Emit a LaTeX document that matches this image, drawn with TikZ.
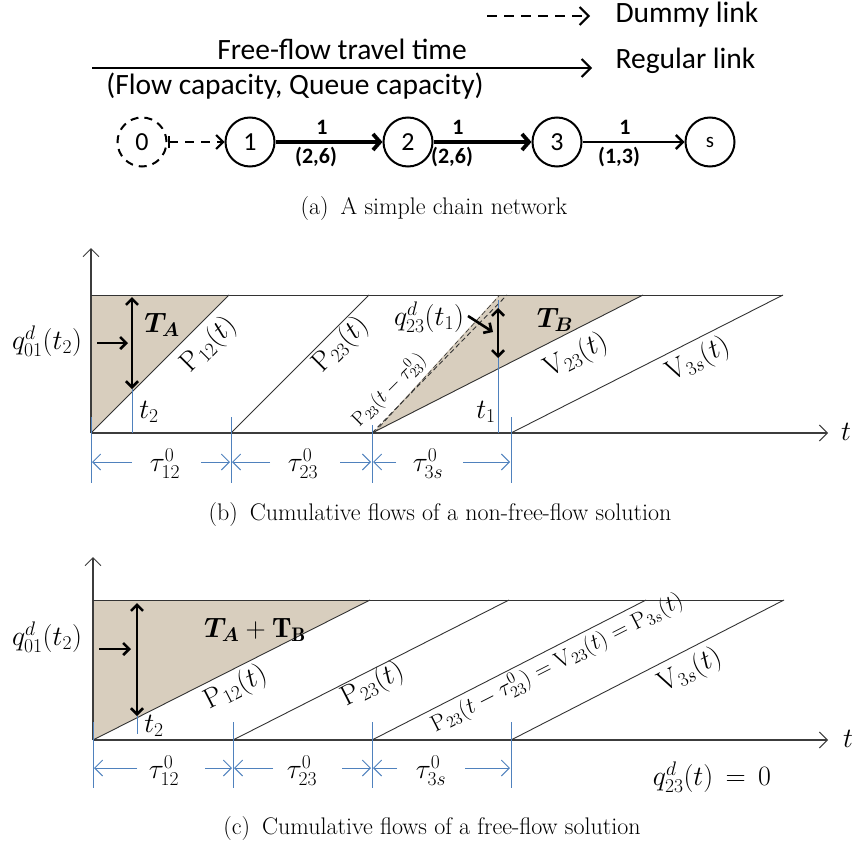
\RequirePackage{fix-cm}
\documentclass[tikz,border=0pt]{standalone}
\usepackage{amsmath,bm}
\usepackage{fontspec}
\newfontfamily\calfont{Carlito}
\usetikzlibrary{arrows.meta}
\definecolor{beige}{RGB}{216,206,190}
\definecolor{dimblue}{RGB}{79,129,189}
\definecolor{axisgray}{RGB}{60,60,60}
\begin{document}
\begin{tikzpicture}[x=1pt,y=-1pt,
  cfont/.style={font=\calfont\fontsize{29.5}{34}\selectfont},
  cbold/.style={font=\calfont\bfseries\fontsize{22}{26}\selectfont},
  netnode/.style={circle,draw,line width=2pt,minimum size=49pt,inner sep=0pt,font=\calfont\fontsize{26}{30}\selectfont},
  barb/.style={-{Straight Barb[length=9pt,width=18pt]}},
  caption/.style={font=\fontsize{24}{28}\selectfont},
  mlbl/.style={font=\fontsize{28}{32}\selectfont,inner sep=0pt},
  slbl/.style={font=\fontsize{20}{24}\selectfont,inner sep=0pt},
  shadearea/.style={fill=beige,draw=none},
  curve/.style={draw=black!80,line width=0.9pt},
  axisline/.style={draw=axisgray,line width=1.4pt},
  axisarrow/.style={axisline,-{Straight Barb[length=8pt,width=16pt,line width=1pt]}},
  dimline/.style={draw=dimblue,line width=0.9pt},
  dimarrow/.style={dimline,-{Straight Barb[length=8pt,width=16pt]}},
  bigarrow/.style={line width=2.6pt,{Straight Barb[length=6pt,width=12pt]}-{Straight Barb[length=6pt,width=12pt]}},
  pointarrow/.style={line width=2.6pt,-{Straight Barb[length=6pt,width=12pt]}}
]
\useasboundingbox (0,0) rectangle (858,848);

% ---------------- (a) ----------------
\coordinate (dA) at (487,16);
\coordinate (dB) at (590,16);
\draw[line width=2pt,dash pattern=on 10pt off 7pt,barb] (dA) -- (dB);
\node[cfont,anchor=west] (dummy) at (612,15) {Dummy link};
\coordinate (rA) at (92,68);
\coordinate (rB) at (592,68);
\draw[line width=2pt,barb] (rA) -- (rB);
\node[cfont,anchor=west] (regular) at (612,61) {Regular link};
\node[cfont] (fft) at (342,49) {Free-flow travel time};
\node[cfont] (cap) at (295,86) {(Flow capacity, Queue capacity)};

\node[netnode,dashed,dash pattern=on 8pt off 6pt] (n0) at (142,142) {0};
\node[netnode] (n1) at (250,142) {1};
\node[netnode] (n2) at (408,142) {2};
\node[netnode] (n3) at (557,142) {3};
\node[netnode,font=\calfont\fontsize{21}{24}\selectfont] (ns) at (710,142) {s};

\draw[line width=2pt,dash pattern=on 9pt off 7pt,{Bar[width=12pt]}-{Straight Barb[length=7pt,width=14pt]}] (n0) -- (n1);
\draw[line width=3.8pt,-{Straight Barb[length=7pt,width=16pt]}] (n1) -- (n2);
\draw[line width=3.8pt,-{Straight Barb[length=7pt,width=16pt]}] (n2) -- (n3);
\draw[line width=2.4pt,-{Straight Barb[length=7pt,width=14pt]}] (n3) -- (ns);
\node[cbold] (l1a) at (322,127) {1};
\node[cbold] (l1b) at (316,157) {(2,6)};
\node[cbold] (l2a) at (458,127) {1};
\node[cbold] (l2b) at (452,157) {(2,6)};
\node[cbold] (l3a) at (625,127) {1};
\node[cbold] (l3b) at (619,157) {(1,3)};

\node[caption] (capa) at (434,209) {(a)\enspace A simple chain network};

% ---------------- (b) ----------------
\fill[shadearea] (91,295) -- (229,295) -- (91,433) -- cycle;
\fill[shadearea] (373,433) -- (499,295) -- (643,295) -- cycle;
\draw[axisarrow] (91,433) -- (91,248);
\draw[axisarrow] (91,433) -- (828,433);
\draw[curve] (91,295) -- (783,295);
\draw[curve] (91,433) -- (229,295);
\draw[curve] (231,433) -- (369,295);
\draw[curve,dashed,dash pattern=on 5pt off 3pt] (372,433) -- (507,295);
\draw[curve,dashed,dash pattern=on 5pt off 3pt,line width=0.6pt] (374,433) -- (499,296);
\draw[curve] (372,433) -- (643,295);
\draw[curve] (511,433) -- (783,295);

\draw[dimline] (132,389) -- (132,433);
\draw[dimline] (498,300) -- (498,433);
\draw[bigarrow] (132,297) -- (132,389);
\draw[pointarrow] (97,343) -- (128,343);
\draw[bigarrow] (498,308) -- (498,358);
\draw[pointarrow] (468,316) -- (493,332);

\node[mlbl] (qb) at (47,341) {$q^{d}_{01}(t_2)$};
\node[mlbl] (TA) at (162,325) {$\bm{T_A}$};
\node[mlbl] (t2b) at (149,412) {$t_2$};
\node[mlbl,rotate=45] (P12b) at (209,345) {$\mathrm{P}_{12}(t)$};
\node[mlbl,rotate=45] (P23b) at (341,345) {$\mathrm{P}_{23}(t)$};
\node[slbl,rotate=45] (P23tb) at (389,390) {$\mathrm{P}_{23}(t-\tau^0_{23})$};
\node[mlbl] (q23b) at (429,317) {$q^{d}_{23}(t_1)$};
\node[mlbl] (TB) at (555,320) {$\bm{T_B}$};
\node[mlbl,rotate=27] (V23b) at (576,356) {$\mathrm{V}_{23}(t)$};
\node[mlbl,rotate=27] (V3sb) at (698,360) {$\mathrm{V}_{3s}(t)$};
\node[mlbl] (t1b) at (486,412) {$t_1$};
\node[mlbl] (tb) at (846,432) {$t$};

\draw[dimline] (91,417) -- (91,483);
\draw[dimline] (231,417) -- (231,483);
\draw[dimline] (372,425) -- (372,483);
\draw[dimline] (511,417) -- (511,483);
\draw[dimarrow] (132,462) -- (92,462);
\draw[dimarrow] (201,462) -- (230,462);
\draw[dimarrow] (270,462) -- (232,462);
\draw[dimarrow] (340,462) -- (371,462);
\draw[dimarrow] (396,462) -- (373,462);
\draw[dimarrow] (463,462) -- (510,462);
\node[mlbl] (tau12b) at (165,464) {$\tau^0_{12}$};
\node[mlbl] (tau23b) at (303,464) {$\tau^0_{23}$};
\node[mlbl] (tau3sb) at (428,464) {$\tau^0_{3s}$};

\node[caption] (capb) at (440,515) {(b)\enspace Cumulative flows of a non-free-flow solution};

% ---------------- (c) ----------------
\fill[shadearea] (93,600) -- (370,600) -- (93,740) -- cycle;
\draw[axisarrow] (93,740) -- (93,557);
\draw[axisarrow] (93,740) -- (828,740);
\draw[curve] (93,600) -- (783,600);
\draw[curve] (93,740) -- (370,600);
\draw[curve] (233,740) -- (509,600);
\draw[curve] (372,740) -- (646,600);
\draw[curve] (511,740) -- (784,600);

\draw[dimline] (137,716) -- (137,734);
\draw[bigarrow] (137,603) -- (137,716);
\draw[pointarrow] (99,649) -- (131,649);

\node[mlbl] (qc) at (47,637) {$q^{d}_{01}(t_2)$};
\node[mlbl] (TAB) at (255,630) {$\bm{T_A}+\mathbf{T_B}$};
\node[mlbl] (t2c) at (154,726) {$t_2$};
\node[mlbl,rotate=27] (P12c) at (236,688) {$\mathrm{P}_{12}(t)$};
\node[mlbl,rotate=27] (P23c) at (373,685) {$\mathrm{P}_{23}(t)$};
\node[font=\fontsize{23}{27}\selectfont,inner sep=0pt,rotate=27] (longc) at (557,663) {$\mathrm{P}_{23}(t-\tau^0_{23})=\mathrm{V}_{23}(t)=\mathrm{P}_{3s}(t)$};
\node[mlbl,rotate=27] (V3sc) at (690,671) {$\mathrm{V}_{3s}(t)$};
\node[mlbl] (tc) at (848,739) {$t$};
\node[mlbl] (q0c) at (712,777) {$q^{d}_{23}(t)\,=\,0$};

\draw[dimline] (93,722) -- (93,788);
\draw[dimline] (233,722) -- (233,788);
\draw[dimline] (372,722) -- (372,788);
\draw[dimline] (511,722) -- (511,788);
\draw[dimarrow] (137,768) -- (94,768);
\draw[dimarrow] (205,768) -- (232,768);
\draw[dimarrow] (273,768) -- (234,768);
\draw[dimarrow] (342,768) -- (371,768);
\draw[dimarrow] (397,768) -- (373,768);
\draw[dimarrow] (465,768) -- (510,768);
\node[mlbl] (tau12c) at (164,771) {$\tau^0_{12}$};
\node[mlbl] (tau23c) at (302,771) {$\tau^0_{23}$};
\node[mlbl] (tau3sc) at (431,771) {$\tau^0_{3s}$};

\node[caption] (capc) at (432,828) {(c)\enspace Cumulative flows of a free-flow solution};
\end{tikzpicture}
\end{document}
